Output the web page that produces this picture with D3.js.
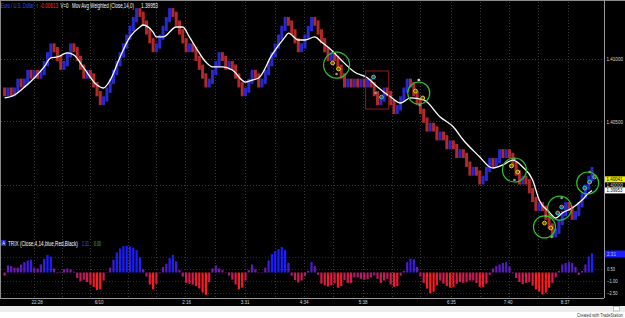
<!DOCTYPE html>
<html><head><meta charset="utf-8">
<script src="https://cdn.jsdelivr.net/npm/d3@7"></script>
<style>
html,body{margin:0;padding:0;background:#000;}
svg{display:block;}
text{font-family:"Liberation Sans",Arial,sans-serif;}
</style></head><body>
<script>
// ---------------- DATA ----------------
const brickBase = 1.40000;
const brickSize = 0.0007;
// Brick close levels (in bricks above 1.40000), one per bar
const closeLevels = [
 10,11,10,11,12,11,12,13,12,13,
 12,13,14,15,16,15,14,13,14,15,16,
 15,14,13,12,13,12,11,10,9,
 10,11,12,13,14,15,16,17,18,19,20,
 19,18,17,16,15,
 16,17,18,19,20,
 19,18,17,16,15,16,15,14,13,12,11,
 12,13,14,15,
 14,13,14,13,12,11,10,
 11,12,13,
 12,11,
 12,13,14,15,16,17,18,19,
 18,17,16,15,
 16,17,18,19,
 18,17,16,15,14,15,14,13,12,11,
 12,11,12,11,12,11,12,11,10,9,
 10,11,10,9,8,
 9,10,11,12,
 11,10,9,8,7,6,7,6,5,6,5,4,5,4,3,4,3,2,1,2,1,0,
 1,2,3,2,3,4,3,4,3,2,1,0,1,0,-1,-2,-3,-2,-3,-4,-5,-6,
 -5,-4,-3,-2,-3,-4,-3,-2,-1,0,1,2
];
// Weighted moving average (Close,14): bar index / value
const maBars = [0,3,5,9,12,14,16,19,21,24,28,30,32,35,38,41,42,45,46,48,52,54,56,59,61,63,66,69,73,75,77,81,85,86,89,91,94,96,99,102,106,110,113,117,120,123,127,132,136,139,144,147,148,151,154,157,160,162,165,167,169,172,175,177,178];
const maValues = [1.40687,1.40710,1.40750,1.40845,1.40933,1.41004,1.41012,1.41044,1.41028,1.40925,1.40790,1.40766,1.40829,1.41012,1.41171,1.41250,1.41266,1.41210,1.41171,1.41171,1.41250,1.41250,1.41171,1.41044,1.40972,1.40933,1.40933,1.40909,1.40813,1.40829,1.40845,1.41028,1.41171,1.41202,1.41147,1.41147,1.41171,1.41131,1.41067,1.40988,1.40893,1.40845,1.40774,1.40694,1.40647,1.40687,1.40671,1.40536,1.40456,1.40353,1.40218,1.40139,1.40131,1.40155,1.40194,1.40139,1.40036,1.39877,1.39782,1.39734,1.39774,1.39813,1.39877,1.39933,1.39953];
// TRIX histogram, one value per bar
const trixValues = [
 -0.4,0.9,0.8,0.6,0.6,1.0,1.3,1.5,1.6,0.6,
 0.5,1.0,1.7,2.2,2.0,0.5,-0.1,0.1,0.4,0.5,
 0.4,0.1,-0.7,-1.1,-0.9,-1.2,-1.5,-1.8,-2.2,-2.1,
 -1.0,0.05,0.6,1.6,2.5,3.0,3.3,3.35,3.25,3.1,
 2.8,1.9,0.4,-0.5,-1.5,-2.1,-1.4,-0.1,0.7,1.1,
 1.8,2.2,1.4,0.3,-0.5,-1.3,-1.4,-1.5,-1.7,-2.0,
 -2.5,-2.8,-1.2,0.5,0.9,0.5,0.3,-0.05,-0.4,-0.9,
 -1.5,-2.1,-1.9,-1.0,0.3,1.0,0.4,0.05,0.05,0.6,
 1.5,2.3,2.7,2.95,3.2,2.8,1.2,-0.4,-0.95,-1.25,
 -1.0,-0.45,0.2,1.3,0.8,-0.3,-1.4,-1.6,-1.75,-1.6,
 -1.35,-1.9,-1.7,-0.95,-1.3,-1.3,-0.6,-0.6,-0.8,-0.9,
 -0.8,-0.6,-0.35,-0.8,-1.3,-1.0,-0.8,-1.5,-1.8,-1.7,
 -0.4,0.2,1.3,1.75,1.65,0.7,-0.5,-1.3,-2.0,-2.6,
 -2.4,-1.6,-1.0,-1.4,-1.7,-1.9,-1.8,-1.4,-1.2,-1.3,
 -1.2,-1.0,-1.0,-1.3,-1.8,-1.8,-1.4,-0.3,0.5,0.8,
 1.0,1.2,1.3,0.75,-0.1,-0.7,-1.2,-1.45,-1.3,-1.2,
 -1.65,-2.1,-2.4,-2.75,-2.5,-1.9,-1.3,-0.6,0.2,1.0,
 1.2,1.35,1.2,0.7,-0.3,0.2,1.0,2.0,2.4
];
// Signal circles (bar, price, radius px) and markers
const circleBars = [100.6,125.5,154.5,163.6,168.2,176.7];
const circlePrices = [1.40948,1.40726,1.40115,1.39663,1.39813,1.40012];
const circleRadii = [13,11,12,11,12,11];
const markerBars = [99.4,101.2,100.6, 111.8,114.2,112.4, 124.5,126.7,125.8,125.5, 153.6,155.5,154.5,154.5, 163.6,165.5,164,165.8, 167.6,168.8,168.8, 175.8,177.3,178.8,177.3];
const markerPrices = [1.40964,1.40917,1.40877, 1.40853,1.40694,1.40726, 1.40742,1.40687,1.40631,1.40829, 1.40147,1.40099,1.40036,1.40202, 1.39694,1.39655,1.39750,1.39583, 1.39774,1.39821,1.39893, 1.39972,1.40020,1.40060,1.40099];
const markerKinds = ["y","y","g", "c","c","g", "y","y","g","w", "y","y","g","g", "y","y","g","g", "c","c","g", "c","c","c","g"];
const boxBars = [109.4,116.4];
const boxPrices = [1.40901,1.40599];
// Axes
const priceTicks = [1.41, 1.405, 1.40];
const trixTicks = [0.5, -1.0, -2.5];
const timeBars = [9.7,28.5,55,72.7,90.6,108.5,135.2,152.4,169.7];
const timeLabels = ["22:28","6/10","2:16","3:31","4:34","5:38","6:35","7:40","8:37"];
const gridBars = [8.8,17.3,26,37.3,46,54.8,63.9,72.7,81.8,90.6,99.4,108.5,117.3,126,135.2,144,152.7,161.5,170.6];
const lastClose = 1.40041, lastMA = 1.39953, lastTrix = 2.31;

// ---------------- CHART ----------------
const W = 625, H = 318;
const svg = d3.select("body").append("svg").attr("width", W).attr("height", H);
svg.append("rect").attr("width", W).attr("height", H).attr("fill", "#000");

const x = d3.scaleLinear().domain([0, 178]).range([4.6, 592]);
const pitch = x(1) - x(0);
const y = d3.scaleLinear().domain([1.40, 1.41]).range([184.5, 58.5]);
const yt = d3.scaleLinear().domain([0, 1]).range([272.5, 264.5]);

// condensed text helper (the reference font is narrow)
function fitText(g, xx, yy, txt, col, w, fs, anchor) {
  const e = g.append("text").attr("font-size", fs).attr("fill", col).attr("text-anchor", anchor || "start").text(txt);
  const n = e.node().getComputedTextLength();
  e.attr("transform", `translate(${xx},${yy}) scale(${w / n},1)`);
  return e;
}

// grid
const grid = svg.append("g").attr("stroke", "#3a3a3a").attr("stroke-width", 1).attr("stroke-dasharray", "1,2");
gridBars.forEach(b => {
  grid.append("line").attr("x1", Math.round(x(b)) + 0.5).attr("x2", Math.round(x(b)) + 0.5).attr("y1", 2).attr("y2", 297);
});
priceTicks.forEach(p => {
  grid.append("line").attr("x1", 1).attr("x2", 604).attr("y1", Math.round(y(p)) + 0.5).attr("y2", Math.round(y(p)) + 0.5);
});
[2.0, 0.5, -1.0, -2.5].forEach(v => {
  grid.append("line").attr("x1", 1).attr("x2", 604).attr("y1", Math.round(yt(v)) + 0.5).attr("y2", Math.round(yt(v)) + 0.5).attr("stroke", "#2c2c2c");
});

// bricks
const closes = closeLevels.map(l => brickBase + l * brickSize);
const bricks = closes.map((c, i) => {
  const prev = i === 0 ? c + brickSize : closes[i - 1];
  const up = c > prev;
  const prevUp = i < 2 ? !up : closes[i - 1] > closes[i - 2];
  const ext = (prevUp === up) ? brickSize * 0.6 : 0;
  const lo = up ? prev - ext : c;
  const hi = up ? c : prev + ext;
  return {i, lo, hi, up};
});
svg.append("g").selectAll("rect").data(bricks).join("rect")
  .attr("x", d => x(d.i) - pitch / 2 + 0.15)
  .attr("width", pitch - 0.3)
  .attr("y", d => y(d.hi))
  .attr("height", d => y(d.lo) - y(d.hi))
  .attr("fill", d => d.up ? "#2828cc" : "#b02a2a");

// MA line
const ma = maBars.map((b, k) => [b, maValues[k]]);
svg.append("path").datum(ma)
  .attr("d", d3.line().x(d => x(d[0])).y(d => y(d[1])).curve(d3.curveMonotoneX))
  .attr("fill", "none").attr("stroke", "#fff").attr("stroke-width", 1.3);

// red box
svg.append("rect")
  .attr("x", x(boxBars[0])).attr("y", y(boxPrices[0]))
  .attr("width", x(boxBars[1]) - x(boxBars[0])).attr("height", y(boxPrices[1]) - y(boxPrices[0]))
  .attr("fill", "none").attr("stroke", "#8e1c1c").attr("stroke-width", 1);

// markers
const kindColor = {y: "#f0d000", c: "#30c8f0", g: "#9a9a9a", w: "#e0e0e0"};
svg.append("g").selectAll("circle").data(markerBars.map((b, k) => ({b, p: markerPrices[k], k: markerKinds[k]})))
  .join("circle")
  .attr("cx", d => x(d.b)).attr("cy", d => y(d.p))
  .attr("r", d => d.k === "g" || d.k === "w" ? 1.3 : 1.9)
  .attr("fill", d => d.k === "g" || d.k === "w" ? kindColor[d.k] : "#6a5020")
  .attr("stroke", d => kindColor[d.k]).attr("stroke-width", d => d.k === "g" || d.k === "w" ? 0 : 1);

// green circles
svg.append("g").selectAll("circle").data(circleBars.map((b, k) => ({b, p: circlePrices[k], r: circleRadii[k]})))
  .join("circle")
  .attr("cx", d => x(d.b)).attr("cy", d => y(d.p)).attr("r", d => d.r)
  .attr("fill", "none").attr("stroke", "#2fbf2f").attr("stroke-width", 1.2);

// TRIX histogram
const trixColor = v => d3.interpolateRgb("#ff1c1c", "#1c1cff")(Math.max(0, Math.min(1, (v + 2.2) / 4.4)));
svg.append("g").selectAll("rect").data(trixValues.map((v, i) => ({v, i}))).join("rect")
  .attr("x", d => x(d.i) - 1.1).attr("width", 2.2)
  .attr("y", d => Math.min(yt(d.v), yt(0)))
  .attr("height", d => Math.abs(yt(d.v) - yt(0)))
  .attr("fill", d => trixColor(d.v));

// frame lines
svg.append("line").attr("x1", 0).attr("x2", W).attr("y1", 0.5).attr("y2", 0.5).attr("stroke", "#8a8a8a");
svg.append("line").attr("x1", 0.5).attr("x2", 0.5).attr("y1", 0).attr("y2", 298).attr("stroke", "#8a8a8a");
svg.append("line").attr("x1", 604.5).attr("x2", 604.5).attr("y1", 0).attr("y2", 298).attr("stroke", "#9a9a9a");
svg.append("line").attr("x1", 0).attr("x2", 604).attr("y1", 298.5).attr("y2", 298.5).attr("stroke", "#9a9a9a");

// price axis
const pAxis = svg.append("g").attr("transform", "translate(606.5,0)")
  .call(d3.axisRight(y).tickValues(priceTicks).tickSize(0).tickPadding(0).tickFormat(d3.format(".5f")));
pAxis.select(".domain").remove();
pAxis.selectAll("text").attr("fill", "#d8d8d8").attr("font-size", 6).attr("transform", "scale(0.76,1)")
  .attr("font-family", "Liberation Sans, Arial, sans-serif");

// last value boxes
function valBox(yy, txt, bg, fg) {
  svg.append("rect").attr("x", 605).attr("y", yy - 3).attr("width", 20).attr("height", 6).attr("fill", bg);
  fitText(svg, 606.5, yy + 2, txt, fg, 16, 5.8);
}
valBox(y(lastClose), d3.format(".5f")(lastClose), "#f2f000", "#000");
valBox(y(lastMA), d3.format(".5f")(lastMA), "#ffffff", "#000");

// TRIX axis
const tAxis = svg.append("g").attr("transform", "translate(607,0)")
  .call(d3.axisRight(yt).tickValues(trixTicks).tickSize(0).tickPadding(0).tickFormat(d3.format(".2f")));
tAxis.select(".domain").remove();
tAxis.selectAll("text").attr("fill", "#d8d8d8").attr("font-size", 5.8).attr("transform", "scale(0.72,1)")
  .attr("font-family", "Liberation Sans, Arial, sans-serif");
svg.append("rect").attr("x", 605).attr("y", yt(lastTrix) - 3.5).attr("width", 20).attr("height", 7).attr("fill", "#1c1cff");
fitText(svg, 607, yt(lastTrix) + 2.2, d3.format(".2f")(lastTrix), "#a8c8ff", 9, 5.8);

// time axis
const xAxis = svg.append("g").attr("transform", "translate(0,299)")
  .call(d3.axisBottom(x).tickValues(timeBars).tickSize(0).tickPadding(1).tickFormat((d, k) => timeLabels[k]));
xAxis.select(".domain").remove();
xAxis.selectAll("text").attr("fill", "#d8d8d8").attr("font-size", 6).attr("transform", "scale(0.75,1)")
  .attr("font-family", "Liberation Sans, Arial, sans-serif");

// bottom strip
svg.append("rect").attr("x", 0).attr("y", 306).attr("width", W).attr("height", 12).attr("fill", "#ededed");
svg.append("rect").attr("x", 0).attr("y", 312).attr("width", W).attr("height", 6).attr("fill", "#ffffff");
svg.append("rect").attr("x", 613.5).attr("y", 306.5).attr("width", 6).attr("height", 4.5).attr("fill", "#fff").attr("stroke", "#9a9a9a").attr("stroke-width", 0.6);
fitText(svg, 577, 317, "Created with TradeStation", "#333", 46, 5.5);

// header
fitText(svg, 1, 8, "Euro / U.S. Dollar", "#3a4cff", 33, 6.5);
fitText(svg, 36, 8, "↑", "#30e030", 2.5, 6.5);
fitText(svg, 40, 8, "-0.00613", "#ff3030", 18, 6.5);
fitText(svg, 60.5, 8, "V=0", "#ffffff", 8, 6.5);
fitText(svg, 72, 8, "Mov Avg Weighted (Close,14,0)", "#ffffff", 62, 6.5);
fitText(svg, 141, 8, "1.39953", "#ffffff", 17, 6.5);

// TRIX header
svg.append("rect").attr("x", 1).attr("y", 240).attr("width", 5).attr("height", 6).attr("fill", "#2020d0");
fitText(svg, 2.2, 245, "A", "#ffffff", 2.8, 5);
fitText(svg, 8, 245.5, "TRIX (Close,4,14,blue,Red,Black)", "#ffffff", 70, 6.5);
fitText(svg, 82, 245.5, "2.31", "#3a4cff", 7, 6.5);
fitText(svg, 94, 245.5, "0.00", "#30c030", 7, 6.5);
</script>
</body></html>
